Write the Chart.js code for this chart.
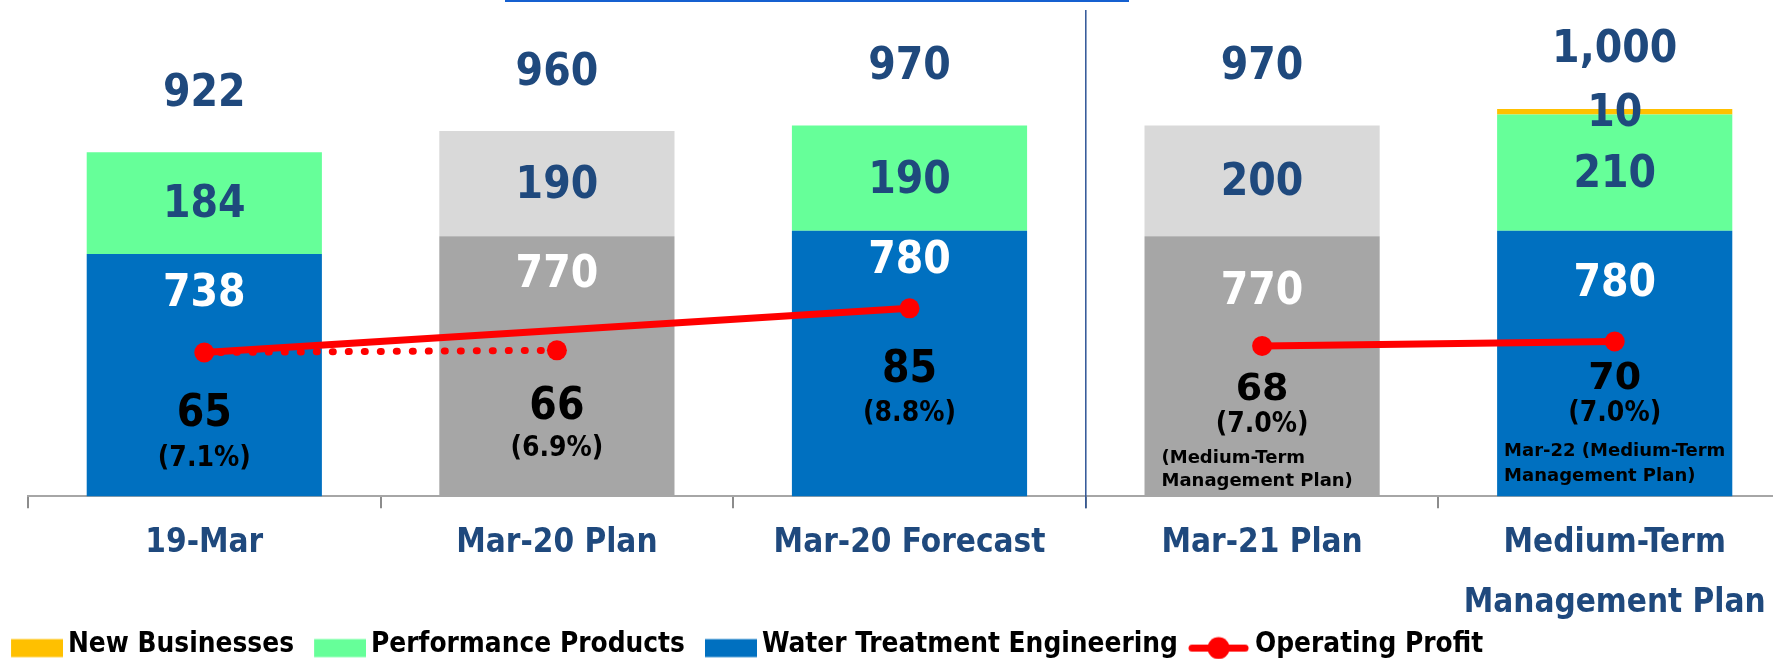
<!DOCTYPE html>
<html>
<head>
<meta charset="utf-8">
<script src="https://cdn.jsdelivr.net/npm/chart.js@4.4.1/dist/chart.umd.min.js"></script>
<style>
html, body { margin: 0; padding: 0; background: #ffffff; overflow: hidden; }
#wrap { position: relative; width: 1801px; height: 659px; }
#topRule { position: absolute; left: 505px; top: 0; width: 624px; height: 2px; background: #1560D0; }
</style>
</head>
<body>
<div id="wrap"><canvas id="chart"></canvas><div id="topRule"></div></div>
<script>
// ---------- data ----------
const categories = ['19-Mar', 'Mar-20 Plan', 'Mar-20 Forecast', 'Mar-21 Plan', ['Medium-Term', 'Management Plan']];
const waterTreatment = [738, 770, 780, 770, 780];
const performanceProducts = [184, 190, 190, 200, 210];
const newBusinesses = [null, null, null, null, 10];
const operatingProfit = [65, 66, 85, 68, 70];
const profitMargin = ['(7.1%)', '(6.9%)', '(8.8%)', '(7.0%)', '(7.0%)'];
const profitNotes = [null, null, null, ['(Medium-Term', 'Management Plan)'], ['Mar-22 (Medium-Term', 'Management Plan)']];
const profitActualToForecast = [65, null, 85, null, null];
const profitActualToPlan = [65, 66, null, null, null];
const profitMidTermPlan = [null, null, null, 68, 70];
const isPlan = [false, true, false, true, false];

// ---------- styles ----------
const FONT_C = '"DejaVu Sans Condensed", "DejaVu Sans", sans-serif';
const FONT_S = '"DejaVu Sans", sans-serif';
const NAVY = '#1F497D';
const BLUE = '#0070C0', GREEN = '#66FF99', YELLOW = '#FFC000', RED = '#FF0000';
const GREY_DARK = '#A6A6A6', GREY_LIGHT = '#D9D9D9';
const segLabelShift = 3;
const wteLabelDy = [38, 36, 28, 53, 51];
const totalLabelDy = 58;
const profitDy = [62, 57, 62, 44, 38];
const pctDy = [106, 98, 105, 79, 72];
const profitFonts = ['bold 44px ' + FONT_C, 'bold 44px ' + FONT_C, 'bold 44px ' + FONT_C, 'bold 38px ' + FONT_S, 'bold 38px ' + FONT_S];
const noteDx = [0, 0, 0, 17, 7];
const noteDy = [[0, 0], [0, 0], [0, 0], [112, 135], [110, 135]];

// legend swatches (canvas point styles)
function swatch(color) {
  const c = document.createElement('canvas');
  c.width = 73; c.height = 30;
  const g = c.getContext('2d');
  g.fillStyle = color;
  g.fillRect(21, 9.5, 52, 18);
  return c;
}
function lineSwatch() {
  const c = document.createElement('canvas');
  c.width = 73; c.height = 30;
  const g = c.getContext('2d');
  g.strokeStyle = RED; g.lineWidth = 7; g.lineCap = 'round';
  g.beginPath(); g.moveTo(15, 18.5); g.lineTo(68, 18.5); g.stroke();
  g.fillStyle = RED;
  g.beginPath(); g.arc(41.5, 18.5, 11, 0, Math.PI * 2); g.fill();
  return c;
}

const separatorPlugin = {
  id: 'separator',
  afterDatasetsDraw(chart) {
    const {ctx, chartArea} = chart;
    const x = chart.scales.x.getPixelForValue(2.5);
    ctx.save();
    ctx.strokeStyle = '#2F5597';
    ctx.lineWidth = 1.5;
    ctx.beginPath();
    ctx.moveTo(x, chartArea.top);
    ctx.lineTo(x, chartArea.bottom + 12);
    ctx.stroke();
    ctx.restore();
  }
};

const labelPlugin = {
  id: 'valueLabels',
  afterDatasetsDraw(chart) {
    const ctx = chart.ctx;
    const wMeta = chart.getDatasetMeta(0), pMeta = chart.getDatasetMeta(1), nMeta = chart.getDatasetMeta(2);
    const y2 = chart.scales.y2;
    ctx.save();
    ctx.textAlign = 'center';
    ctx.textBaseline = 'middle';
    categories.forEach((cat, i) => {
      const wBar = wMeta.data[i], pBar = pMeta.data[i], nBar = nMeta.data[i];
      const x = wBar.x;
      ctx.font = 'bold 44px ' + FONT_C;
      ctx.fillStyle = '#FFFFFF';
      ctx.fillText(String(waterTreatment[i]), x, wBar.y + wteLabelDy[i] + segLabelShift);
      ctx.fillStyle = NAVY;
      ctx.fillText(String(performanceProducts[i]), x, (pBar.y + pBar.base) / 2 + segLabelShift);
      let topY = pBar.y;
      let total = waterTreatment[i] + performanceProducts[i];
      if (newBusinesses[i] != null) {
        ctx.fillText(String(newBusinesses[i]), x, (nBar.y + nBar.base) / 2 + segLabelShift);
        topY = nBar.y;
        total += newBusinesses[i];
      }
      ctx.fillText(total.toLocaleString('en-US'), x, topY - totalLabelDy);
      const py = y2.getPixelForValue(operatingProfit[i]);
      ctx.fillStyle = '#000000';
      ctx.font = profitFonts[i];
      ctx.fillText(String(operatingProfit[i]), x, py + profitDy[i]);
      ctx.font = 'bold 28px ' + FONT_C;
      ctx.fillText(profitMargin[i], x, py + pctDy[i]);
      if (profitNotes[i]) {
        ctx.font = 'bold 18px ' + FONT_S;
        ctx.textAlign = 'left';
        const left = x - wBar.width / 2 + noteDx[i];
        profitNotes[i].forEach((line, k) => ctx.fillText(line, left, py + noteDy[i][k]));
        ctx.textAlign = 'center';
      }
    });
    ctx.restore();
  }
};

const lineBase = {
  type: 'line', yAxisID: 'y2', borderColor: RED, backgroundColor: RED, borderWidth: 7,
  pointRadius: 10, pointHoverRadius: 10, pointBackgroundColor: RED, pointBorderWidth: 0,
  spanGaps: true, order: 0, fill: false, tension: 0
};

new Chart(document.getElementById('chart'), {
  type: 'bar',
  data: {
    labels: categories,
    datasets: [
      { label: 'Water Treatment Engineering', data: waterTreatment, backgroundColor: isPlan.map(p => p ? GREY_DARK : BLUE),
        yAxisID: 'y', order: 2, categoryPercentage: 1, barPercentage: 0.667, borderWidth: 0 },
      { label: 'Performance Products', data: performanceProducts, backgroundColor: isPlan.map(p => p ? GREY_LIGHT : GREEN),
        yAxisID: 'y', order: 2, categoryPercentage: 1, barPercentage: 0.667, borderWidth: 0 },
      { label: 'New Businesses', data: newBusinesses, backgroundColor: YELLOW,
        yAxisID: 'y', order: 2, categoryPercentage: 1, barPercentage: 0.667, borderWidth: 0 },
      Object.assign({}, lineBase, { label: 'Operating Profit', data: profitActualToForecast }),
      Object.assign({}, lineBase, { label: 'Operating Profit (plan)', data: profitActualToPlan,
        borderDash: [1, 15], borderCapStyle: 'round', pointRadius: [0, 10, 0, 0, 0] }),
      Object.assign({}, lineBase, { label: 'Operating Profit (mid-term)', data: profitMidTermPlan })
    ]
  },
  options: {
    responsive: true,
    maintainAspectRatio: false,
    animation: false,
    events: [],
    layout: { padding: { top: 10, left: -9, right: 0, bottom: -9.5 } },
    plugins: {
      tooltip: { enabled: false },
      legend: {
        position: 'bottom',
        align: 'start',
        labels: {
          usePointStyle: true,
          pointStyleWidth: 55.1,
          boxHeight: 20,
          padding: 8,
          color: '#000000',
          font: { family: FONT_C, size: 27.75, weight: 'bold' },
          generateLabels: () => [
            { text: 'New Businesses', pointStyle: swatch(YELLOW), fillStyle: YELLOW, strokeStyle: YELLOW, lineWidth: 0, hidden: false, datasetIndex: 2 },
            { text: 'Performance Products', pointStyle: swatch(GREEN), fillStyle: GREEN, strokeStyle: GREEN, lineWidth: 0, hidden: false, datasetIndex: 1 },
            { text: 'Water Treatment Engineering', pointStyle: swatch(BLUE), fillStyle: BLUE, strokeStyle: BLUE, lineWidth: 0, hidden: false, datasetIndex: 0 },
            { text: 'Operating Profit', pointStyle: lineSwatch(), fillStyle: RED, strokeStyle: RED, lineWidth: 0, hidden: false, datasetIndex: 3 }
          ]
        }
      }
    },
    scales: {
      x: {
        stacked: true,
        grid: { offset: true, drawOnChartArea: false, drawTicks: true, tickLength: 12, color: '#8C8C8C', lineWidth: 2 },
        border: { display: true, color: '#A6A6A6', width: 2 },
        ticks: {
          color: NAVY, padding: 5, autoSkip: false, maxRotation: 0, minRotation: 0,
          font: { family: FONT_C, size: 33, weight: 'bold', lineHeight: 1.82 }
        },
        afterFit(s) { s.height = 126.6; }
      },
      y: {
        stacked: true, min: 300, max: 1179,
        ticks: { display: false }, grid: { display: false }, border: { display: false },
        afterFit(s) { s.width = 37; }
      },
      y2: { position: 'right', min: 0, max: 220, display: false, grid: { display: false } }
    }
  },
  plugins: [separatorPlugin, labelPlugin]
});
</script>
</body>
</html>
